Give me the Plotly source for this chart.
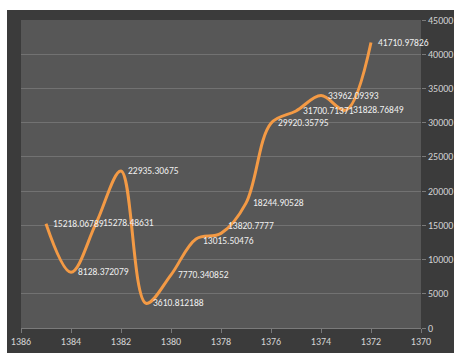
import plotly.graph_objects as go

years = [1385, 1384, 1383, 1382, 1381, 1380, 1379, 1378, 1377, 1376, 1375, 1374, 1373, 1372]
values = [15218.06789, 8128.372079, 15278.48631, 22935.30675, 3610.812188, 7770.340852,
          13015.50476, 13820.7777, 18244.90528, 29920.35795, 31700.71371, 33962.09393,
          31828.76849, 41710.97826]
labels = [f"{v:.10g}" for v in values]

x_ticks = list(range(1386, 1369, -2))
y_ticks = list(range(0, 45001, 5000))

label_font = "Liberation Sans Narrow, Carlito, Roboto, sans-serif"

fig = go.Figure()
fig.add_trace(go.Scatter(
    x=years, y=values,
    mode="lines",
    line=dict(color="#f39a45", width=3, shape="spline", smoothing=1.0),
    hoverinfo="skip",
))

# value labels to the right of each point
for yr, v, lab in zip(years, values, labels):
    fig.add_annotation(
        x=yr, y=v, text=lab, showarrow=False,
        xanchor="left", yanchor="middle", xshift=5,
        yshift=7 if yr == 1378 else (-2 if yr == 1379 else 0),
        font=dict(color="#f0f0f0", size=9.5, family=label_font),
    )

# dark chart frame, then the lighter plot area on top of it
fig.add_shape(type="rect", xref="paper", yref="paper",
              x0=-0.035, x1=1.09, y0=-0.09, y1=1.0325,
              fillcolor="#3b3b3b", line=dict(width=0), layer="below")
fig.add_shape(type="rect", xref="paper", yref="paper",
              x0=0, x1=1, y0=0, y1=1,
              fillcolor="#575757", line=dict(width=0), layer="below")

fig.update_layout(
    width=454, height=353,
    margin=dict(l=21, r=33, t=20, b=25),
    paper_bgcolor="white",
    plot_bgcolor="#575757",
    showlegend=False,
    xaxis=dict(
        range=[1386, 1370], tickvals=x_ticks, ticktext=[str(t) for t in x_ticks],
        showgrid=False, zeroline=False, automargin=False,
        showline=True, linecolor="#7a7a7a", linewidth=1,
        ticks="outside", ticklen=4, tickcolor="#7a7a7a",
        tickfont=dict(color="#d4d4d4", size=10, family=label_font),
    ),
    yaxis=dict(
        range=[0, 45000], tickvals=y_ticks, ticktext=[str(t) for t in y_ticks],
        side="right", showgrid=True, gridcolor="#727272", gridwidth=1,
        zeroline=False, showline=False, automargin=False,
        ticks="outside", ticklen=4, tickcolor="#7a7a7a",
        tickfont=dict(color="#d4d4d4", size=10, family=label_font),
    ),
)

fig.write_html("out.html")
